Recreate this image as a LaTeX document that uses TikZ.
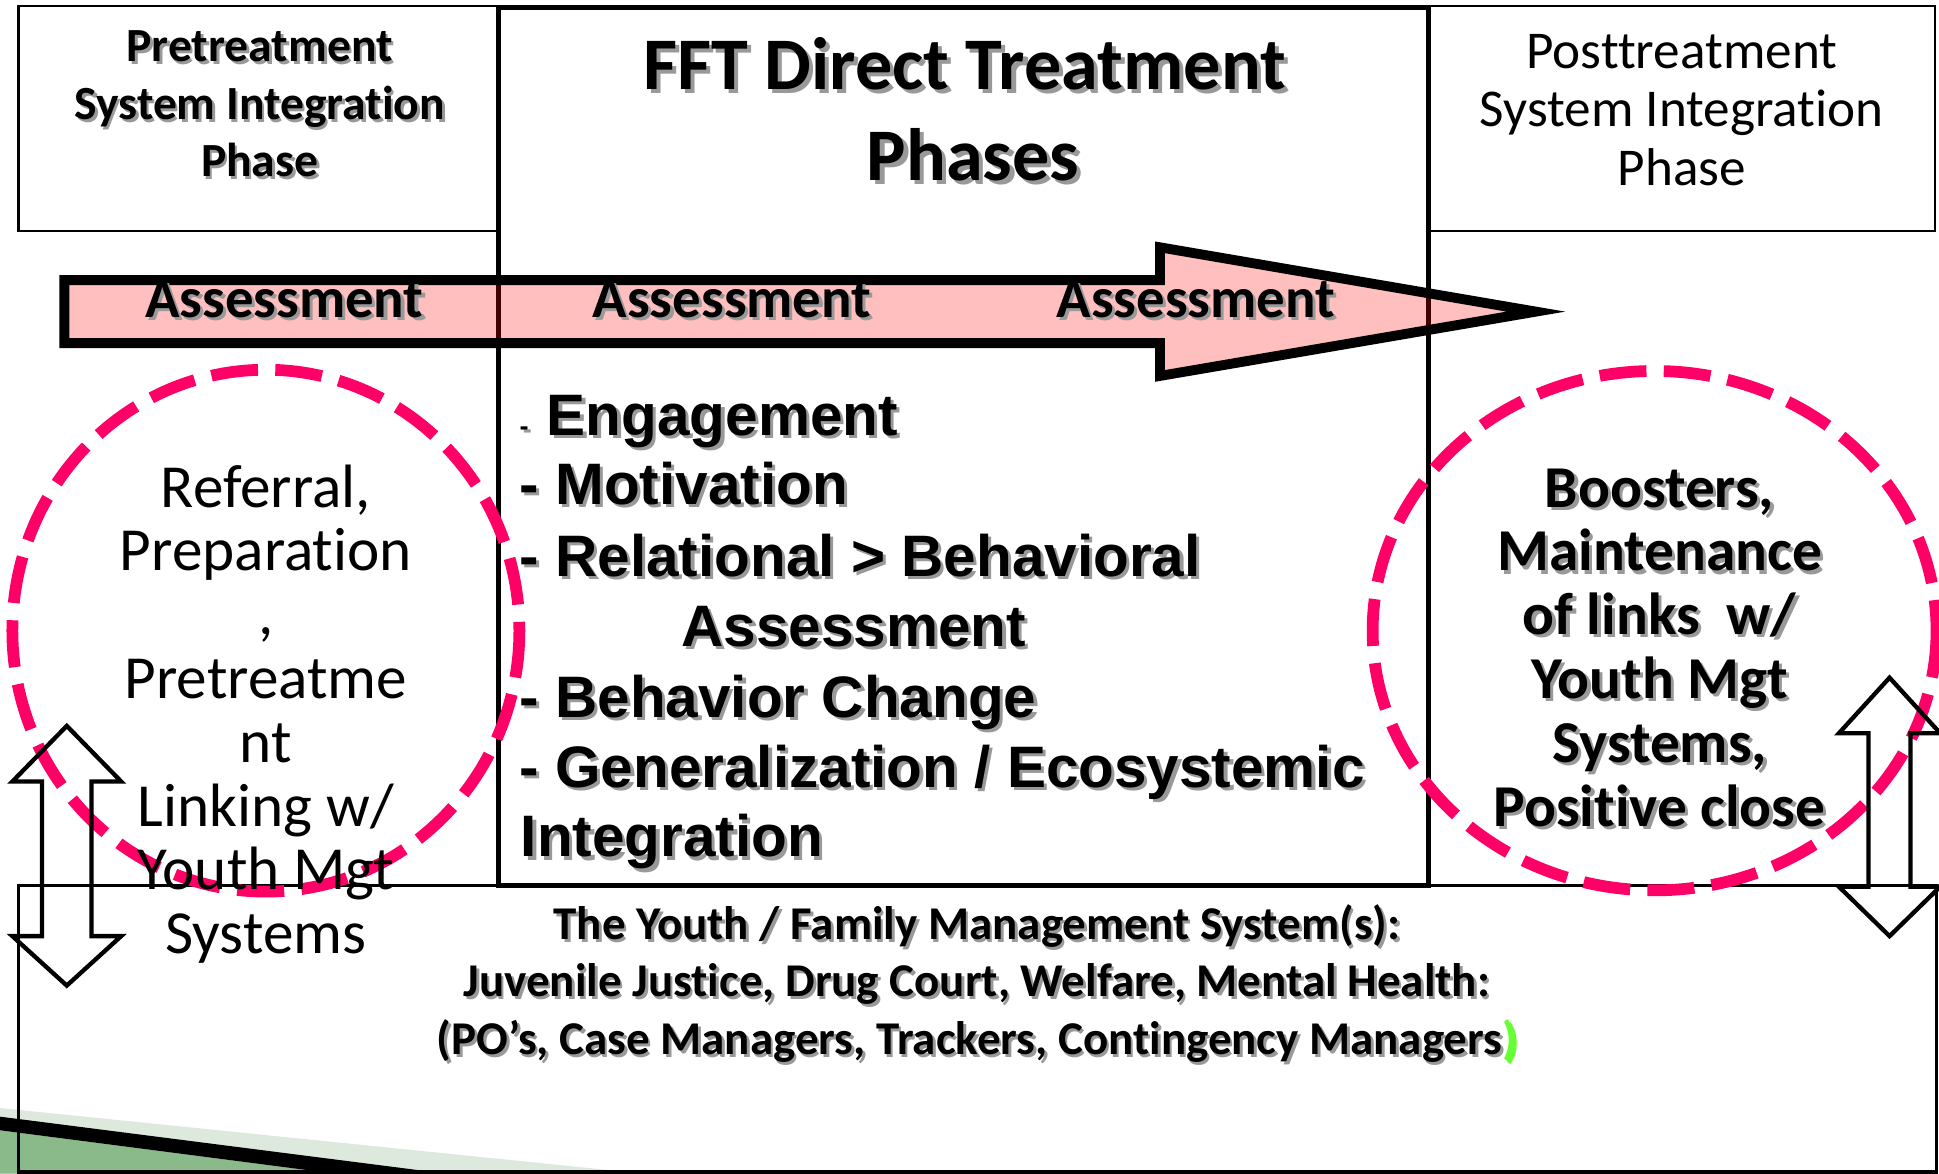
\documentclass[tikz,border=0pt]{standalone}
\usepackage{fontspec}
\setmainfont{Carlito}[RawFeature={-liga;-clig;-dlig}]
\newfontfamily\listfont{Liberation Sans}[RawFeature={-liga;-clig}]
\definecolor{dashpink}{RGB}{255,0,102}
\definecolor{leafgreen}{RGB}{138,186,138}
\definecolor{palegreen}{RGB}{222,233,222}
\definecolor{brightgreen}{RGB}{102,255,51}
% text with a soft drop shadow
\newcommand\shd[1]{\leavevmode\rlap{\kern0.055em\raisebox{-0.055em}{\color{black!40}#1}}#1}
\begin{document}
\begin{tikzpicture}[x=1pt,y=-1pt,
  thinbox/.style={draw,line width=1.8pt},
  mainbox/.style={draw,line width=4pt},
  basebox/.style={draw,line width=3pt},
  band/.style={draw,line width=8pt,line join=miter,fill=red,fill opacity=0.25,draw opacity=1},
  ring/.style={draw=dashpink,line width=9.5pt,dash pattern=on 38pt off 14pt},
  updown/.style={draw,line width=3.5pt,line join=miter},
  lbl/.style={inner sep=0pt,anchor=base},
  lblw/.style={inner sep=0pt,anchor=base west},
  phasefont/.style={font=\fontsize{38.5}{46}\selectfont\bfseries},
  titlefont/.style={font=\fontsize{60}{72}\selectfont\bfseries},
  postfont/.style={font=\fontsize{43}{52}\selectfont},
  assessfont/.style={font=\fontsize{46}{55}\selectfont\bfseries},
  prefont/.style={font=\fontsize{49.5}{59}\selectfont},
  boostfont/.style={font=\fontsize{48}{58}\selectfont\bfseries},
  stepfont/.style={font=\listfont\fontsize{47.3}{56}\selectfont\bfseries},
  basefont/.style={font=\fontsize{38}{46}\selectfont\bfseries}]
\fill[white] (0,0) rectangle (1568,949);
\useasboundingbox (0,0) rectangle (1568,949);

% slide corner ornament
\fill[palegreen] (0,896) -- (520,949) -- (0,949) -- cycle;
\fill[leafgreen] (0,914) -- (270,949) -- (0,949) -- cycle;
\fill[black] (0,903) -- (360,949) -- (270,949) -- (0,914) -- cycle;

% phase frames
\draw[thinbox] (15,5) rectangle (403,187);
\draw[thinbox] (1155,5) rectangle (1565,187);
\draw[basebox] (15,716) rectangle (1566,948);
\draw[mainbox] (403,6) rectangle (1155,716);

% assessment band
\draw[band] (52,226.5) -- (938,226.5) -- (938,200) -- (1242,252) -- (938,304) -- (938,277.5) -- (52,277.5) -- cycle;

% dashed rings
\draw[ring] (215,510) ellipse [x radius=205, y radius=211];
\draw[ring] (1338,510) ellipse [x radius=228, y radius=210];

% two-way links to the management systems
\draw[updown] (54,587) -- (98,632) -- (74,632) -- (74,757) -- (98,757) -- (54,797)
  -- (10,757) -- (34,757) -- (34,632) -- (10,632) -- cycle;
\draw[updown] (1528,548) -- (1569,593) -- (1545,593) -- (1545,717) -- (1569,717) -- (1528,757)
  -- (1487,717) -- (1511,717) -- (1511,593) -- (1487,593) -- cycle;

% headings
\node[lbl,phasefont] (pre1) at (210,50) {\shd{Pretreatment}};
\node[lbl,phasefont] (pre2) at (210,97) {\shd{System Integration}};
\node[lbl,phasefont] (pre3) at (210,143) {\shd{Phase}};
\node[lbl,titlefont] (fft1) at (780,72) {\shd{FFT Direct Treatment}};
\node[lbl,titlefont] (fft2) at (787,146) {\shd{Phases}};
\node[lbl,postfont] (post1) at (1360,55) {Posttreatment};
\node[lbl,postfont] (post2) at (1360,102) {System Integration};
\node[lbl,postfont] (post3) at (1360,150) {Phase};

% band labels
\node[lbl,assessfont] (as1) at (230,257) {\shd{Assessment}};
\node[lbl,assessfont] (as2) at (592,257) {\shd{Assessment}};
\node[lbl,assessfont] (as3) at (967,257) {\shd{Assessment}};

% left ring text
\foreach \t [count=\i] in {{Referral,},Preparation,{,},Pretreatme,nt,{Linking w/},{Youth Mgt},Systems}
  \node[lbl,prefont] (ref\i) at (215,{410+51.6*(\i-1)}) {\t};

% right ring text
\foreach \t [count=\i] in {{Boosters,},Maintenance,{of links\ \ w/},{Youth Mgt},{Systems,},{Positive close}}
  \node[lbl,boostfont] (bst\i) at (1342,{410+51.6*(\i-1)}) {\shd{\t}};

% treatment steps
\node[lblw,stepfont] (st1) at (420,352) {\shd{{\fontsize{22}{26}\selectfont -}}\kern14.7pt\shd{Engagement}};
\node[lblw,stepfont] (st2) at (420,408) {\shd{- Motivation}};
\node[lblw,stepfont] (st3) at (420,466) {\shd{- Relational > Behavioral}};
\node[lblw,stepfont] (st4) at (551,523) {\shd{Assessment}};
\node[lblw,stepfont] (st5) at (420,580) {\shd{- Behavior Change}};
\node[lblw,stepfont] (st6) at (420,637) {\shd{- Generalization / Ecosystemic}};
\node[lblw,stepfont] (st7) at (421,693) {\shd{Integration}};

% management systems
\node[lbl,basefont] (sys1) at (790,760) {\shd{The Youth / Family Management System(s):}};
\node[lbl,basefont] (sys2) at (790,806) {\shd{Juvenile Justice, Drug Court, Welfare, Mental Health:}};
\node[lbl,basefont] (sys3) at (790,853) {\shd{(PO’s, Case Managers, Trackers, Contingency Managers}\shd{\textcolor{brightgreen}{)}}};
\end{tikzpicture}
\end{document}
